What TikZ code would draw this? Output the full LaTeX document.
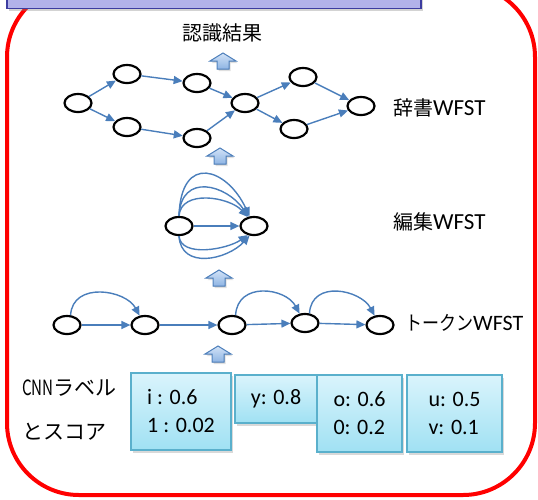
\documentclass[tikz,border=0pt]{standalone}
\usepackage{fontspec}
\setmainfont{Carlito}
\newfontfamily\jp{Noto Sans CJK JP}
\usetikzlibrary{arrows.meta,shadows,shapes.geometric}
\definecolor{edgeblue}{HTML}{4A7EBB}
\definecolor{purpfill}{HTML}{B2B2EA}
\definecolor{purpline}{HTML}{3C3CA0}
\definecolor{boxtop}{HTML}{DAF4FC}
\definecolor{boxbot}{HTML}{A0E1F3}
\definecolor{boxline}{HTML}{5AB0CC}
\definecolor{arrtop}{HTML}{D2E3F7}
\definecolor{arrbot}{HTML}{8EB4E3}
\definecolor{arrline}{HTML}{4F81BD}
\newcommand{\uparr}[1]{\filldraw[blockarr] (#1) -- ++(13,8) -- ++(-7,0) -- ++(0,8) -- ++(-12,0) -- ++(0,-8) -- ++(-7,0) -- cycle;}
\begin{document}
\begin{tikzpicture}[x=1pt,y=-1pt,
  st/.style={ellipse, draw=black, line width=2.2pt, minimum width=27pt, minimum height=18pt, inner sep=0pt, fill=white},
  ed/.style={draw=edgeblue, line width=1.4pt, -{Triangle[length=9pt,width=8pt]}},
  blockarr/.style={draw=arrline, line width=1pt, top color=arrtop, bottom color=arrbot, drop shadow={opacity=0.25, shadow xshift=1.5pt, shadow yshift=-2pt}},
  lbl/.style={font=\fontsize{20}{24}\selectfont, inner sep=0pt},
  score/.style={draw=boxline, line width=1.2pt, top color=boxtop, bottom color=boxbot, align=left, inner sep=0pt,
     font=\fontsize{22}{28}\selectfont, drop shadow={opacity=0.3, shadow xshift=2pt, shadow yshift=-3pt}}]
\useasboundingbox (0,0) rectangle (538,499);
% red frame
\draw[red, line width=4pt, rounded corners=72pt] (7,-15) rectangle (535,495);
% top purple box
\draw[fill=purpfill, draw=purpline, line width=1.5pt, drop shadow={opacity=0.35, shadow xshift=1.5pt, shadow yshift=-2.5pt}] (7,-20) rectangle (421,8.5);
% labels
\node[lbl] (res) at (222,33) {\jp 認識結果};
\node[lbl, anchor=west] (ldict) at (393,108) {{\jp 辞書}{\fontsize{23}{24}\selectfont WFST}};
\node[lbl, anchor=west] (ledit) at (393,222) {{\jp 編集}{\fontsize{23}{24}\selectfont WFST}};
\node[lbl, anchor=west] (ltok) at (405,323) {\scalebox{0.85}[1]{\jp トークン}{\fontsize{22}{24}\selectfont WFST}};
\node[lbl, anchor=west, font=\fontsize{21}{24}\selectfont\jp] (lcnn) at (22,388) {\scalebox{0.72}[1]{CNN}ラベル};
\node[lbl, anchor=west, font=\fontsize{21}{24}\selectfont\jp] (lsc) at (22,432) {とスコア};
% up arrows
\uparr{223,53}
\uparr{220,148}
\uparr{219,270}
\uparr{218,346}
% dictionary WFST
\node[st] (d1) at (78,103) {};
\node[st] (d2) at (127,74) {};
\node[st] (d3) at (197,83) {};
\node[st] (d4) at (127,127) {};
\node[st] (d5) at (197,138) {};
\node[st] (d6) at (245,103) {};
\node[st] (d7) at (303,77) {};
\node[st] (d8) at (294,129) {};
\node[st] (d9) at (361,106) {};
\draw[ed] (d1) -- (d2);
\draw[ed] (d1) -- (d4);
\draw[ed] (d2) -- (d3);
\draw[ed] (d3) -- (d6);
\draw[ed] (d4) -- (d5);
\draw[ed] (d5) -- (d6);
\draw[ed] (d6) -- (d7);
\draw[ed] (d6) -- (d8);
\draw[ed] (d7) -- (d9);
\draw[ed] (d8) -- (d9);
% edit WFST
\node[st] (e1) at (179,226) {};
\node[st] (e2) at (254,226) {};
\draw[ed] (e1) -- (e2);
\draw[ed] (e1.north) .. controls +(2,-64) and +(-22,-48) .. (e2.115);
\draw[ed] (e1.north) .. controls +(2,-44) and +(-22,-32) .. (e2.120);
\draw[ed] (e1.north) .. controls +(2,-27) and +(-18,-20) .. (e2.125);
\draw[ed] (e1.south) .. controls +(2,22) and +(-20,14) .. (e2.235);
\draw[ed] (e1.south) .. controls +(2,34) and +(-22,24) .. (e2.245);
% token WFST
\node[st] (t1) at (67,325) {};
\node[st] (t2) at (145,325) {};
\node[st] (t3) at (232,325) {};
\node[st] (t4) at (305,323) {};
\node[st] (t5) at (380,325) {};
\draw[ed] (t1) -- (t2);
\draw[ed] (t2) -- (t3);
\draw[ed] (t3) -- (t4);
\draw[ed] (t4) -- (t5);
\draw[ed] (t1.70) .. controls +(2,-34) and +(-14,-26) .. (t2.120);
\draw[ed] (t3.70) .. controls +(2,-34) and +(-14,-26) .. (t4.120);
\draw[ed] (t4.65) .. controls +(2,-34) and +(-14,-26) .. (t5.120);
% score boxes
\node[score, minimum width=100pt, minimum height=77pt] (b1) at (181,411.5) {i : 0.6\\1 : 0.02};
\node[score, minimum width=82pt, minimum height=48pt] (b2) at (276,399) {y: 0.8};
\node[score, minimum width=85pt, minimum height=77pt] (b3) at (359.5,413.5) {o: 0.6\\0: 0.2};
\node[score, minimum width=95pt, minimum height=77pt] (b4) at (454.5,413.5) {u: 0.5\\v: 0.1};
\end{tikzpicture}
\end{document}
